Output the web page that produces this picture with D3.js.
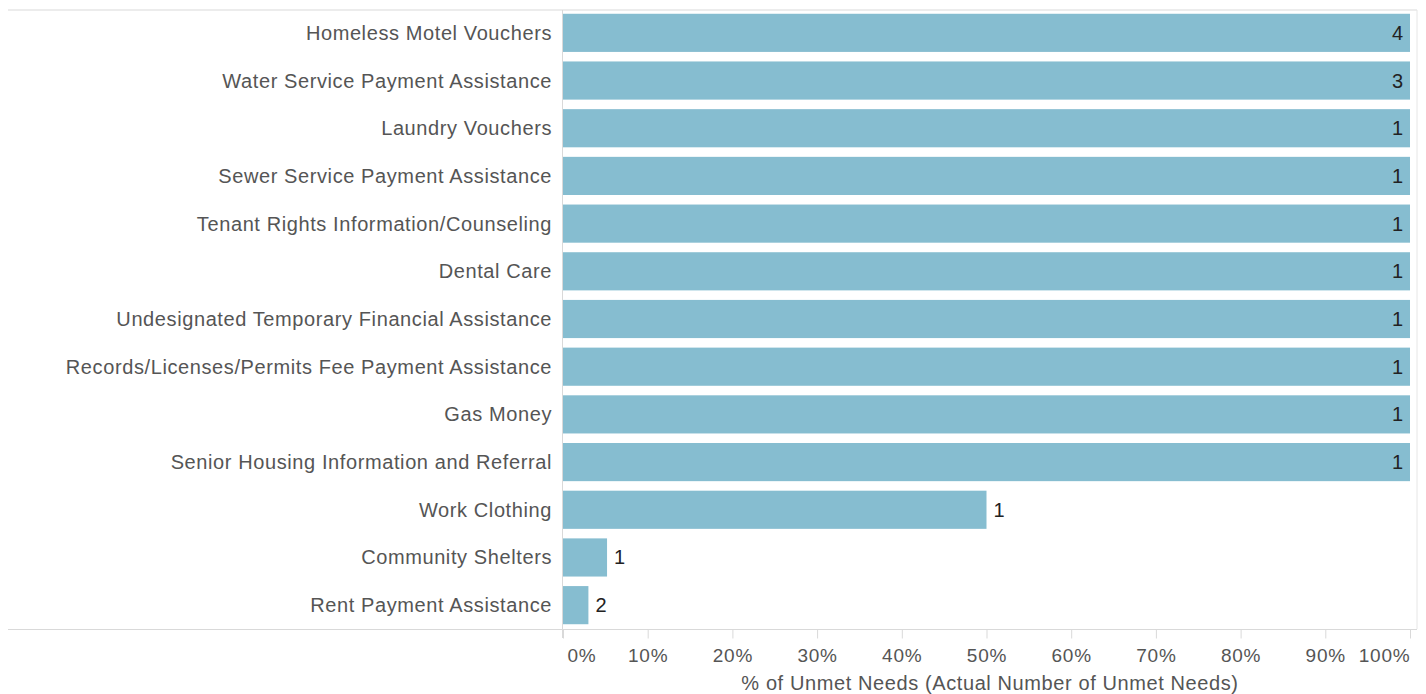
<!DOCTYPE html>
<html>
<head>
<meta charset="utf-8">
<script src="https://cdn.jsdelivr.net/npm/d3@7"></script>
<style>
  body { margin: 0; background: #fff; }
  text { font-family: "Liberation Sans", Arial, Helvetica, sans-serif; }
</style>
</head>
<body>
<svg id="chart" width="1426" height="694"></svg>
<script>
// data
const categories = [
  "Homeless Motel Vouchers",
  "Water Service Payment Assistance",
  "Laundry Vouchers",
  "Sewer Service Payment Assistance",
  "Tenant Rights Information/Counseling",
  "Dental Care",
  "Undesignated Temporary Financial Assistance",
  "Records/Licenses/Permits Fee Payment Assistance",
  "Gas Money",
  "Senior Housing Information and Referral",
  "Work Clothing",
  "Community Shelters",
  "Rent Payment Assistance"
];
const pctUnmet = [100, 100, 100, 100, 100, 100, 100, 100, 100, 100, 50, 5.2, 3];
const countUnmet = [4, 3, 1, 1, 1, 1, 1, 1, 1, 1, 1, 1, 2];
const tickValues = [0, 10, 20, 30, 40, 50, 60, 70, 80, 90, 100];

const data = categories.map((c, i) => ({ name: c, pct: pctUnmet[i], n: countUnmet[i] }));

const svg = d3.select('#chart');
const plotLeft = 563, plotRight = 1410, plotTop = 10, plotBottom = 629;

const x = d3.scaleLinear().domain([0, 100]).range([plotLeft, plotRight]);
const y = d3.scaleBand().domain(categories).range([plotTop - 1, plotBottom]).paddingInner(0.2).paddingOuter(0.1);

// frame lines
svg.append('line').attr('x1', 8).attr('x2', 1417).attr('y1', plotTop).attr('y2', plotTop)
  .style('stroke', '#d9d9d9').style('stroke-width', 1);
svg.append('line').attr('x1', 1417).attr('x2', 1417).attr('y1', plotTop).attr('y2', plotBottom)
  .style('stroke', '#e6e6e6').style('stroke-width', 1);
svg.append('line').attr('x1', 8).attr('x2', 1417).attr('y1', plotBottom + 0.5).attr('y2', plotBottom + 0.5)
  .style('stroke', '#d9d9d9').style('stroke-width', 1);
svg.append('line').attr('x1', plotLeft - 0.5).attr('x2', plotLeft - 0.5).attr('y1', plotTop).attr('y2', plotBottom + 9)
  .style('stroke', '#d9d9d9').style('stroke-width', 1);

// bars
svg.selectAll('.bar')
  .data(data)
  .enter()
  .append('rect')
  .attr('class', 'bar')
  .attr('x', x(0))
  .attr('y', d => y(d.name))
  .attr('width', d => x(d.pct) - x(0))
  .attr('height', y.bandwidth())
  .style('fill', '#86bdd0');

// category labels
svg.selectAll('.cat')
  .data(data)
  .enter()
  .append('text')
  .attr('class', 'cat')
  .attr('x', 552)
  .attr('y', d => y(d.name) + y.bandwidth() / 2)
  .attr('dy', '0.35em')
  .attr('text-anchor', 'end')
  .style('font-size', '20px')
  .style('letter-spacing', '0.6px')
  .style('fill', '#555')
  .text(d => d.name);

// count labels
svg.selectAll('.val')
  .data(data)
  .enter()
  .append('text')
  .attr('class', 'val')
  .attr('x', d => d.pct >= 99 ? x(d.pct) - 7 : x(d.pct) + 7)
  .attr('y', d => y(d.name) + y.bandwidth() / 2)
  .attr('dy', '0.35em')
  .attr('text-anchor', d => d.pct >= 99 ? 'end' : 'start')
  .style('font-size', '20px')
  .style('fill', '#222')
  .text(d => d.n);

// x axis
const xAxis = svg.append('g')
  .attr('transform', `translate(0,${plotBottom + 0.5})`)
  .call(d3.axisBottom(x).tickValues(tickValues).tickSize(9).tickFormat(d => d + '%'));
xAxis.select('.domain').remove();
xAxis.selectAll('.tick line').style('stroke', '#d9d9d9');
xAxis.selectAll('.tick text')
  .attr('y', 19)
  .attr('x', d => d === 0 ? 4 : 0)
  .attr('text-anchor', d => d === 0 ? 'start' : (d === 100 ? 'end' : 'middle'))
  .style('font-size', '19px')
  .style('letter-spacing', '0.8px')
  .style('fill', '#555')
  .style('font-family', '"Liberation Sans", Arial, sans-serif');

svg.append('text')
  .attr('x', 990)
  .attr('y', 690)
  .attr('text-anchor', 'middle')
  .style('font-size', '20px')
  .style('letter-spacing', '0.6px')
  .style('fill', '#555')
  .text('% of Unmet Needs (Actual Number of Unmet Needs)');
</script>
</body>
</html>
